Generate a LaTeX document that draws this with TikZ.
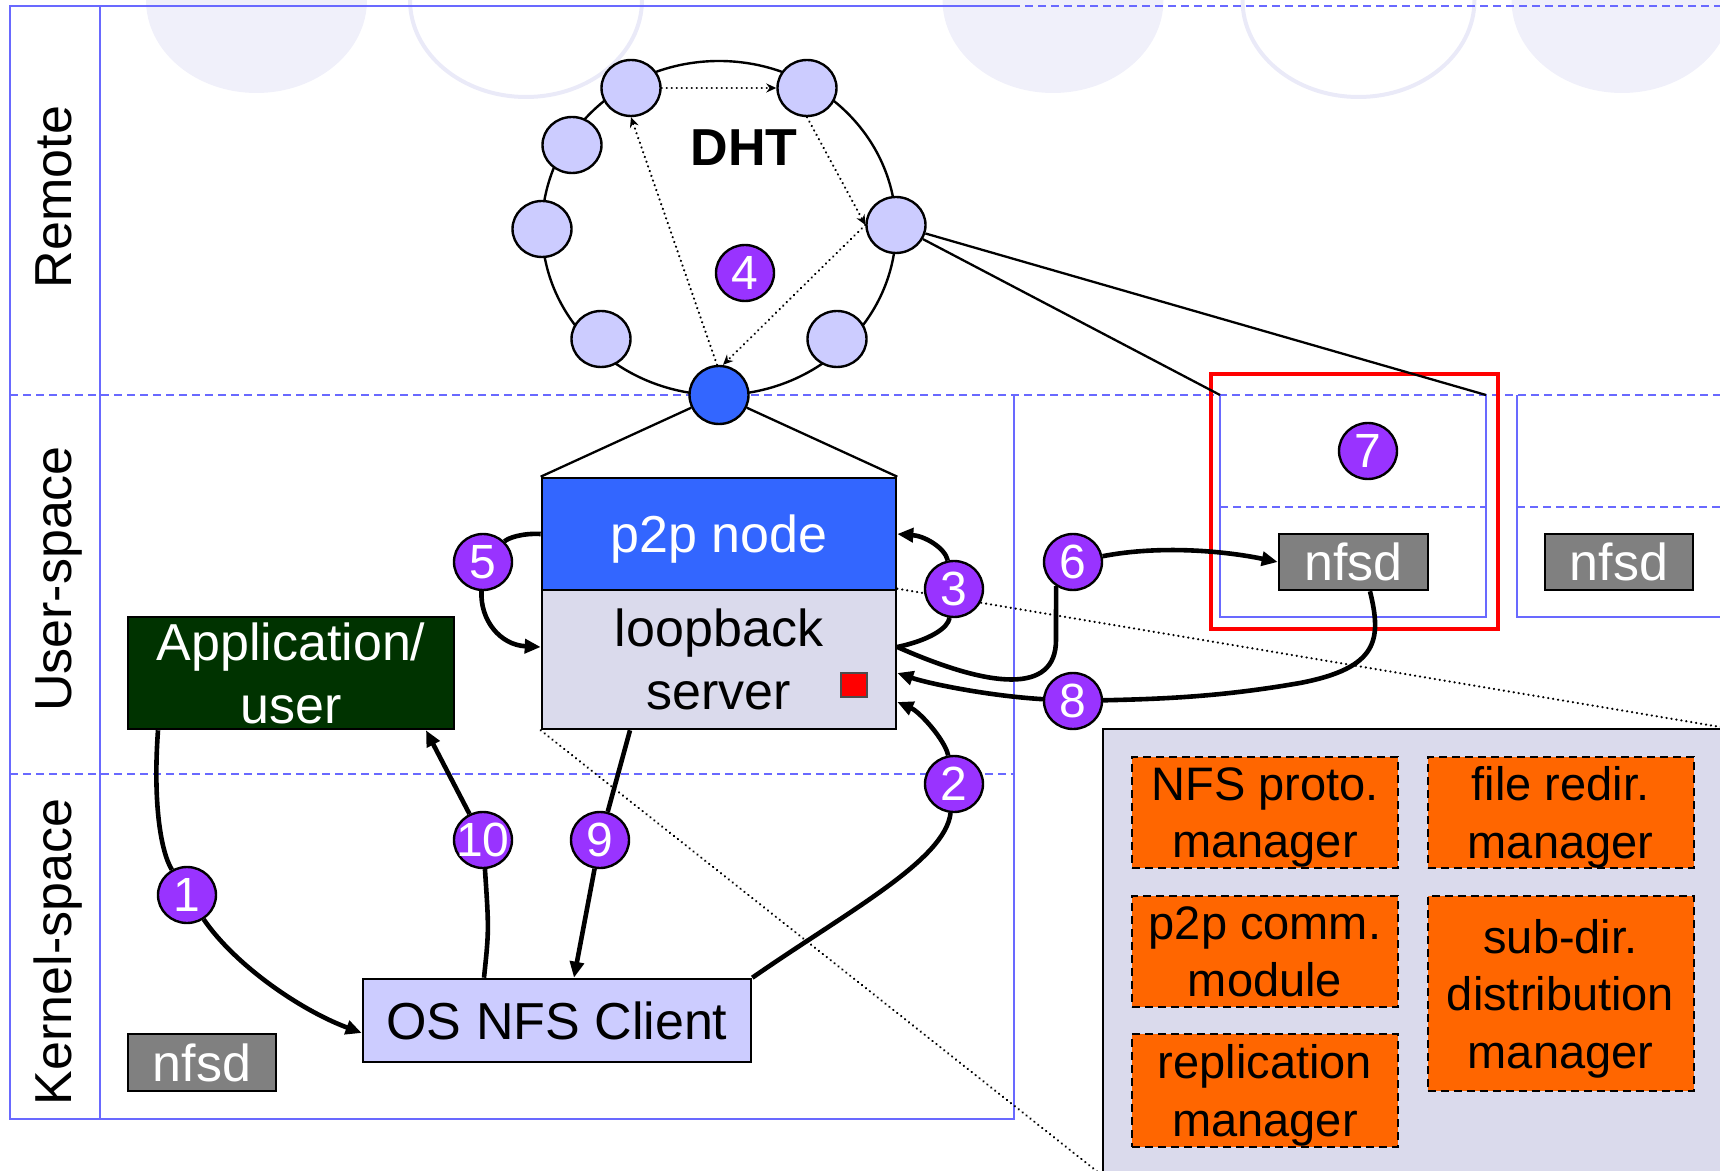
\documentclass[tikz,border=0pt]{standalone}
\usepackage{fontspec}
\setmainfont{Liberation Sans}
\usetikzlibrary{arrows.meta,shapes.geometric}

\definecolor{laneblue}{RGB}{105,105,255}
\definecolor{ringfill}{RGB}{204,204,255}
\definecolor{nodeblue}{RGB}{51,102,255}
\definecolor{srvfill}{RGB}{218,218,236}
\definecolor{badgefill}{RGB}{153,51,255}
\definecolor{appgreen}{RGB}{0,51,0}
\definecolor{nfsdgray}{RGB}{128,128,128}
\definecolor{modorange}{RGB}{255,102,0}
\definecolor{decofill}{RGB}{240,240,250}
\definecolor{decoline}{RGB}{234,234,248}

\tikzset{
  lane/.style={draw=laneblue, line width=1.1pt},
  lanedash/.style={lane, dash pattern=on 4pt off 2.5pt},
  box/.style={draw=black, line width=1.3pt, inner sep=0pt, align=center,
    font=\fontsize{26}{31.5}\selectfont},
  ringnode/.style={ellipse, draw=black, line width=1.2pt, fill=ringfill,
    minimum width=29.5pt, minimum height=28pt, inner sep=0pt},
  badge/.style={ellipse, draw=black, line width=1.2pt, fill=badgefill, text=white,
    minimum width=29pt, minimum height=28pt, inner xsep=-6pt, inner ysep=-3pt,
    font=\fontsize{24}{24}\selectfont},
  module/.style={draw=black, line width=1pt, dash pattern=on 4pt off 2.5pt,
    fill=modorange, inner sep=0pt, align=center, minimum width=133pt, text depth=0pt,
    font=\fontsize{23.5}{28.75}\selectfont},
  flow/.style={line width=2.3pt},
  flowto/.style={flow, -{Triangle[length=8pt,width=7pt]}},
  dots/.style={line width=1.2pt, line cap=round, dash pattern=on 0.05pt off 2.45pt},
  hop/.style={dots, -{Stealth[length=5pt,width=4.5pt]}},
  thinline/.style={line width=1.15pt},
  lanelabel/.style={rotate=90, anchor=base, font=\fontsize{26}{26}\selectfont},
}

\begin{document}
\begin{tikzpicture}[x=0.5pt,y=-0.5pt]
\useasboundingbox (0,0) rectangle (1720,1171);
\clip (0,0) rectangle (1720,1171);

% faint decoration along the top edge
\fill[decofill] (256.5,0) ellipse [x radius=55.25pt, y radius=46.5pt];
\draw[decoline, line width=2pt] (526,0) ellipse [x radius=58pt, y radius=48.5pt];
\fill[decofill] (1053,0) ellipse [x radius=55.25pt, y radius=46.5pt];
\draw[decoline, line width=2pt] (1358.5,0) ellipse [x radius=58pt, y radius=48.5pt];
\fill[decofill] (1622,0) ellipse [x radius=55.25pt, y radius=46.5pt];

% swim lanes
\draw[lane] (1012,6) -- (10,6) -- (10,1119) -- (1014,1119) -- (1014,395);
\draw[lane] (100,6) -- (100,1119);
\draw[lanedash] (1012,6) -- (1720,6);
\draw[lanedash] (10,395) -- (1720,395);
\draw[lanedash] (10,774) -- (1014,774);

% remote hosts
\draw[lane] (1220,395) coordinate (h1nw) -- (1220,617) -- (1486,617) -- (1486,395) coordinate (h1ne);
\draw[lanedash] (1220,507) -- (1486,507);
\draw[lane] (1517,395) -- (1517,617) -- (1720,617);
\draw[lanedash] (1517,507) -- (1720,507);

\node[lanelabel] (lremote) at (71,197) {Remote};
\node[lanelabel] (luser) at (71,579) {User-space};
\node[lanelabel] (lkernel) at (71,952) {Kernel-space};

% highlighted remote host
\draw[red, line width=2.4pt] (1211,374) rectangle (1498,629);

% DHT ring
\draw[line width=1.2pt] (719,228) ellipse [x radius=88.5pt, y radius=83.5pt];
\foreach \px/\py/\n in {896/225/r0, 807/88/r59, 631/88/r121, 572/145/r149,
    542/229/r180, 601/339/r225, 837/339/r315}
  \node[ringnode] (\n) at (\px,\py) {};
\node[ringnode, fill=nodeblue, minimum height=29pt] (dhtb) at (719,395) {};
\node[font=\fontsize{26}{26}\selectfont\bfseries] (dht) at (744,148) {DHT};

\draw[hop] (r121.east) -- (r59.west);
\draw[hop] (r59.south) -- (r0.west);
\draw[hop] (r0.west) -- ([xshift=2pt]dhtb.north);
\draw[hop] ([xshift=-1pt]dhtb.north) -- (r121.south);

\draw[thinline] (r0) -- (h1nw);
\draw[thinline] (r0) -- (h1ne);

% component detail panel
\node[draw=black, line width=1.2pt, fill=srvfill, minimum width=310.5pt,
  minimum height=222.5pt, inner sep=0pt] (comp) at (1413.5,951.5) {};

% local node
\node[box, fill=appgreen, text=white, minimum width=163pt, minimum height=56pt] (app) at (291,673) {Application/\\user};
\node[box, fill=nodeblue, text=white, minimum width=177pt, minimum height=56pt, text depth=0pt] (p2p) at (719,534) {p2p node};
\node[box, fill=srvfill, minimum width=177pt, minimum height=69.5pt] (lb) at (719,659.5) {loopback\\server};
\node[draw=black!70, line width=0.6pt, fill=red, minimum width=13pt, minimum height=12pt, inner sep=0pt] (flag) at (854,685) {};
\node[box, fill=ringfill, minimum width=194pt, minimum height=41.5pt] (osnfs) at (557,1020.5) {OS NFS Client};
\node[box, fill=nfsdgray, text=white, minimum width=74pt, minimum height=28.5pt] (nfsdk) at (202,1062.5) {nfsd};
\node[box, fill=nfsdgray, text=white, minimum width=74.5pt, minimum height=28pt] (nfsda) at (1353.5,562) {nfsd};
\node[box, fill=nfsdgray, text=white, minimum width=74pt, minimum height=28pt] (nfsdb) at (1619,562) {nfsd};

\draw[thinline] (dhtb) -- (p2p.north west);
\draw[thinline] (dhtb) -- (p2p.north east);

% lines opening the detail panel
\draw[dots] (lb.north east) -- (comp.north east);
\draw[dots] (lb.south west) -- (comp.south west);

% modules of the loopback server
\node[module, minimum height=55.5pt] (mnfs) at (1265,812.5) {NFS proto.\\manager};
\node[module, minimum height=55.5pt] (mredir) at (1560.5,812.5) {file redir.\\manager};
\node[module, minimum height=55.5pt] (mcomm) at (1265,951.5) {p2p comm.\\module};
\node[module, minimum height=97.5pt] (msub) at (1560.5,993.5) {sub-dir.\\distribution\\manager};
\node[module, minimum height=56.5pt] (mrepl) at (1265,1090.5) {replication\\manager};

% step markers
\node[badge] (b1) at (187,895) {1};
\node[badge] (b2) at (954,784) {2};
\node[badge] (b3) at (954,589) {3};
\node[badge] (b4) at (745,273) {4};
\node[badge] (b5) at (483,562) {5};
\node[badge] (b6) at (1073,562) {6};
\node[badge] (b7) at (1368,451) {7};
\node[badge] (b8) at (1073,701) {8};
\node[badge] (b9) at (600,840) {9};
\node[badge] (b10) at (483,840) {10};

% request path
\draw[flow] ([xshift=-66.5pt]app.south) .. controls (153,800) and (160,850) .. (b1);
\draw[flowto] (b1) .. controls (235,965) and (300,1010) .. ([yshift=-6.25pt]osnfs.west);
\draw[flow] (osnfs.north east) .. controls (850,910) and (945,860) .. (b2);
\draw[flowto] (b2) .. controls (945,740) and (920,712) .. ([yshift=-21.25pt]lb.east);
\draw[flow] ([yshift=6.25pt]lb.east) .. controls (930,640) and (948,628) .. (b3);
\draw[flowto] (b3) .. controls (945,548) and (925,536) .. (p2p.east);
\draw[flow] (p2p.west) .. controls (522,533) and (508,538) .. (b5);
\draw[flowto] (b5) .. controls (480,620) and (500,645) .. ([yshift=6.25pt]lb.west);
\draw[flow] ([yshift=6.25pt]lb.east) .. controls (990,688) and (1056,695) .. (1056,640) -- (b6.235);
\draw[flowto] (b6) .. controls (1160,545) and (1225,551) .. (nfsda.west);
\draw[flow] ([xshift=8.25pt]nfsda.south) .. controls (1382,640) and (1378,668) .. (1300,683)
  .. controls (1220,697) and (1160,699) .. (b8);
\draw[flowto] (b8) .. controls (990,696) and (930,684) .. ([yshift=-6.75pt]lb.east);
\draw[flow] ([xshift=-44.5pt]lb.south) -- (b9);
\draw[flowto] (b9) -- ([xshift=8.5pt]osnfs.north);
\draw[flow] ([xshift=-36.5pt]osnfs.north) .. controls (489,930) .. (b10);
\draw[flowto] (b10) -- ([xshift=67.5pt]app.south);
\end{tikzpicture}
\end{document}
